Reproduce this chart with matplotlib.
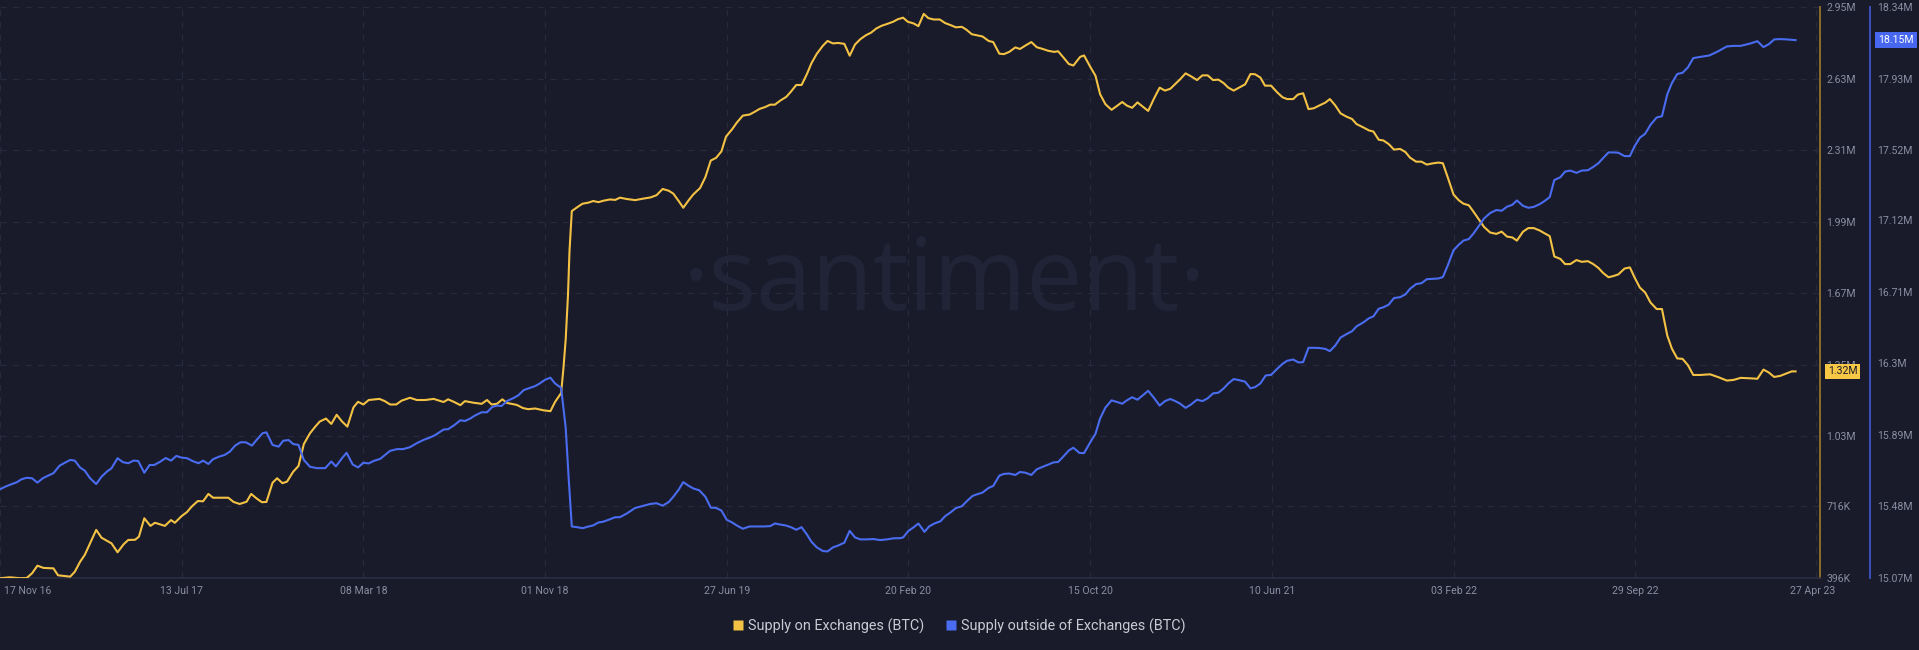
import matplotlib
matplotlib.use("Agg")
import matplotlib.pyplot as plt
import matplotlib.transforms as mtransforms
from matplotlib.lines import Line2D
import numpy as np
import pandas as pd

# ---------------- data (day offset from 17 Nov 2016, value in millions BTC) -------------
start_date = "2016-11-17"

supply_on_exchanges = [
    (0, 0.395), (13, 0.399), (26, 0.395), (35, 0.396), (42, 0.417), (49, 0.451), (57, 0.441),
    (70, 0.439), (76, 0.408), (92, 0.402), (98, 0.424), (105, 0.469), (111, 0.499), (118, 0.551),
    (126, 0.611), (133, 0.576), (146, 0.551), (154, 0.511), (162, 0.547), (168, 0.566), (177, 0.567),
    (182, 0.581), (189, 0.663), (197, 0.629), (203, 0.643), (216, 0.629), (224, 0.655), (229, 0.643),
    (238, 0.673), (245, 0.691), (251, 0.715), (259, 0.740), (266, 0.739), (273, 0.772), (279, 0.755),
    (299, 0.755), (306, 0.736), (314, 0.727), (323, 0.737), (329, 0.772), (336, 0.752), (343, 0.735),
    (349, 0.736), (357, 0.822), (363, 0.842), (370, 0.820), (376, 0.827), (384, 0.871), (391, 0.897),
    (398, 0.995), (406, 1.043), (413, 1.073), (419, 1.096), (427, 1.109), (434, 1.085), (441, 1.126),
    (448, 1.096), (455, 1.073), (463, 1.159), (469, 1.184), (476, 1.172), (483, 1.192), (497, 1.197),
    (504, 1.187), (511, 1.172), (519, 1.172), (526, 1.189), (537, 1.202), (546, 1.192), (557, 1.192),
    (568, 1.197), (581, 1.183), (587, 1.195), (595, 1.183), (603, 1.169), (609, 1.187), (620, 1.180),
    (631, 1.175), (638, 1.192), (644, 1.172), (651, 1.175), (658, 1.195), (664, 1.179), (677, 1.170),
    (685, 1.156), (692, 1.151), (701, 1.154), (712, 1.146), (721, 1.142), (727, 1.183), (735, 1.223),
    (738, 1.332), (741, 1.463), (744, 1.661), (746, 1.859), (749, 2.037), (756, 2.054), (763, 2.070),
    (771, 2.075), (777, 2.082), (784, 2.077), (790, 2.083), (799, 2.089), (806, 2.087), (812, 2.097),
    (821, 2.091), (832, 2.086), (843, 2.093), (852, 2.098), (860, 2.108), (868, 2.136), (876, 2.128),
    (882, 2.115), (889, 2.082), (895, 2.052), (902, 2.085), (908, 2.111), (917, 2.140), (924, 2.189),
    (931, 2.263), (938, 2.275), (945, 2.304), (951, 2.370), (959, 2.403), (965, 2.432), (973, 2.464),
    (982, 2.469), (988, 2.480), (995, 2.494), (1002, 2.502), (1009, 2.513), (1015, 2.513), (1022, 2.531),
    (1030, 2.548), (1036, 2.571), (1043, 2.601), (1050, 2.601), (1057, 2.650), (1063, 2.699), (1070, 2.741),
    (1078, 2.777), (1084, 2.798), (1091, 2.787), (1098, 2.789), (1106, 2.785), (1113, 2.732), (1120, 2.782),
    (1127, 2.806), (1134, 2.823), (1141, 2.835), (1148, 2.854), (1155, 2.866), (1162, 2.874), (1170, 2.884),
    (1176, 2.895), (1183, 2.902), (1189, 2.884), (1197, 2.876), (1203, 2.864), (1210, 2.919), (1216, 2.900),
    (1223, 2.894), (1231, 2.894), (1238, 2.878), (1245, 2.869), (1252, 2.859), (1260, 2.861), (1266, 2.848),
    (1273, 2.828), (1280, 2.823), (1287, 2.818), (1295, 2.798), (1301, 2.793), (1309, 2.741), (1315, 2.739),
    (1322, 2.749), (1330, 2.769), (1336, 2.762), (1343, 2.777), (1351, 2.793), (1358, 2.770), (1366, 2.762),
    (1373, 2.754), (1381, 2.749), (1386, 2.752), (1393, 2.724), (1400, 2.695), (1406, 2.688), (1415, 2.727),
    (1420, 2.733), (1428, 2.683), (1435, 2.642), (1441, 2.560), (1448, 2.515), (1456, 2.490), (1463, 2.507),
    (1470, 2.525), (1476, 2.509), (1483, 2.499), (1490, 2.523), (1497, 2.504), (1504, 2.485), (1512, 2.543),
    (1519, 2.589), (1526, 2.576), (1533, 2.584), (1539, 2.604), (1546, 2.627), (1553, 2.653), (1560, 2.640),
    (1568, 2.623), (1575, 2.644), (1582, 2.644), (1589, 2.623), (1596, 2.625), (1603, 2.609), (1609, 2.589),
    (1616, 2.576), (1623, 2.589), (1631, 2.604), (1638, 2.650), (1644, 2.649), (1651, 2.634), (1657, 2.598),
    (1665, 2.598), (1673, 2.568), (1680, 2.546), (1686, 2.538), (1694, 2.538), (1700, 2.558), (1707, 2.564),
    (1714, 2.493), (1721, 2.497), (1728, 2.509), (1736, 2.522), (1742, 2.538), (1749, 2.510), (1756, 2.474),
    (1764, 2.459), (1771, 2.449), (1777, 2.426), (1786, 2.411), (1793, 2.398), (1799, 2.393), (1806, 2.356),
    (1812, 2.353), (1819, 2.337), (1826, 2.312), (1834, 2.315), (1841, 2.301), (1847, 2.276), (1855, 2.258),
    (1862, 2.258), (1869, 2.245), (1876, 2.250), (1884, 2.254), (1890, 2.251), (1896, 2.192), (1904, 2.111),
    (1911, 2.085), (1917, 2.070), (1924, 2.063), (1930, 2.035), (1938, 1.996), (1944, 1.966), (1952, 1.941),
    (1960, 1.935), (1967, 1.945), (1974, 1.923), (1981, 1.919), (1987, 1.905), (1995, 1.945), (2002, 1.961),
    (2009, 1.961), (2017, 1.950), (2023, 1.938), (2030, 1.925), (2036, 1.834), (2044, 1.823), (2050, 1.800),
    (2057, 1.800), (2065, 1.818), (2072, 1.810), (2080, 1.813), (2087, 1.800), (2094, 1.782), (2100, 1.760),
    (2107, 1.741), (2114, 1.747), (2120, 1.754), (2128, 1.780), (2135, 1.785), (2141, 1.741), (2148, 1.695),
    (2155, 1.673), (2162, 1.628), (2170, 1.599), (2177, 1.599), (2184, 1.480), (2190, 1.422), (2197, 1.378),
    (2204, 1.376), (2211, 1.348), (2218, 1.304), (2227, 1.304), (2240, 1.307), (2251, 1.294), (2262, 1.279),
    (2271, 1.282), (2280, 1.291), (2293, 1.289), (2302, 1.287), (2310, 1.328), (2317, 1.315), (2324, 1.295),
    (2332, 1.300), (2341, 1.312), (2347, 1.320), (2352, 1.320),
]

supply_outside_exchanges = [
    (0, 15.578), (7, 15.593), (15, 15.607), (22, 15.618), (28, 15.635), (35, 15.644), (42, 15.641),
    (49, 15.616), (56, 15.641), (63, 15.656), (70, 15.670), (78, 15.713), (85, 15.730), (92, 15.746),
    (98, 15.742), (105, 15.702), (111, 15.685), (118, 15.641), (126, 15.608), (133, 15.650), (140, 15.679),
    (146, 15.698), (154, 15.756), (161, 15.733), (168, 15.727), (175, 15.742), (181, 15.740), (189, 15.673),
    (196, 15.717), (202, 15.717), (210, 15.736), (217, 15.757), (224, 15.742), (231, 15.769), (238, 15.759),
    (245, 15.756), (252, 15.740), (260, 15.727), (266, 15.742), (273, 15.723), (279, 15.750), (287, 15.765),
    (294, 15.774), (301, 15.793), (308, 15.828), (315, 15.847), (322, 15.847), (330, 15.828), (336, 15.860),
    (344, 15.899), (349, 15.904), (357, 15.832), (365, 15.822), (371, 15.856), (378, 15.860), (384, 15.837),
    (391, 15.832), (398, 15.746), (406, 15.707), (415, 15.699), (426, 15.699), (434, 15.737), (440, 15.709),
    (448, 15.756), (454, 15.787), (462, 15.720), (469, 15.703), (476, 15.730), (483, 15.726), (490, 15.741),
    (498, 15.752), (504, 15.773), (511, 15.798), (520, 15.808), (528, 15.808), (537, 15.819), (546, 15.842),
    (555, 15.861), (563, 15.874), (570, 15.888), (581, 15.920), (587, 15.922), (595, 15.945), (603, 15.973),
    (609, 15.969), (616, 15.983), (622, 16.000), (631, 16.019), (638, 16.019), (645, 16.050), (651, 16.057),
    (657, 16.055), (664, 16.083), (672, 16.099), (679, 16.116), (686, 16.146), (694, 16.158), (701, 16.169),
    (707, 16.184), (714, 16.205), (721, 16.217), (727, 16.184), (735, 16.159), (741, 15.931), (745, 15.635),
    (749, 15.365), (756, 15.361), (763, 15.355), (771, 15.365), (777, 15.371), (784, 15.388), (790, 15.392),
    (797, 15.403), (806, 15.418), (812, 15.418), (821, 15.439), (832, 15.471), (843, 15.484), (852, 15.494),
    (860, 15.498), (868, 15.484), (876, 15.505), (882, 15.535), (889, 15.576), (895, 15.619), (902, 15.598),
    (908, 15.583), (916, 15.572), (924, 15.535), (931, 15.473), (938, 15.471), (945, 15.456), (952, 15.403),
    (959, 15.388), (965, 15.371), (973, 15.352), (982, 15.365), (991, 15.365), (1000, 15.365), (1009, 15.367),
    (1015, 15.382), (1022, 15.376), (1029, 15.371), (1036, 15.361), (1043, 15.346), (1050, 15.361),
    (1057, 15.319), (1063, 15.277), (1070, 15.245), (1078, 15.224), (1084, 15.222), (1091, 15.245),
    (1098, 15.256), (1106, 15.272), (1113, 15.340), (1120, 15.302), (1127, 15.291), (1135, 15.291),
    (1144, 15.293), (1153, 15.287), (1162, 15.291), (1170, 15.297), (1179, 15.298), (1183, 15.302),
    (1190, 15.340), (1197, 15.361), (1203, 15.382), (1211, 15.334), (1217, 15.365), (1224, 15.382),
    (1232, 15.395), (1238, 15.424), (1245, 15.445), (1252, 15.470), (1260, 15.481), (1266, 15.508),
    (1274, 15.540), (1281, 15.551), (1287, 15.559), (1295, 15.586), (1301, 15.597), (1309, 15.656),
    (1315, 15.666), (1322, 15.668), (1330, 15.660), (1336, 15.677), (1343, 15.673), (1351, 15.660),
    (1358, 15.692), (1366, 15.707), (1373, 15.719), (1380, 15.732), (1386, 15.734), (1393, 15.766),
    (1400, 15.800), (1406, 15.816), (1414, 15.786), (1420, 15.785), (1428, 15.846), (1435, 15.896),
    (1441, 15.983), (1448, 16.046), (1456, 16.087), (1463, 16.078), (1470, 16.068), (1476, 16.087),
    (1483, 16.105), (1490, 16.091), (1497, 16.116), (1504, 16.142), (1512, 16.099), (1519, 16.057),
    (1526, 16.083), (1533, 16.095), (1539, 16.084), (1546, 16.068), (1553, 16.044), (1560, 16.063),
    (1568, 16.091), (1575, 16.083), (1582, 16.099), (1589, 16.127), (1596, 16.131), (1603, 16.156),
    (1609, 16.184), (1616, 16.209), (1623, 16.203), (1631, 16.194), (1638, 16.156), (1644, 16.163),
    (1651, 16.184), (1658, 16.230), (1665, 16.233), (1673, 16.268), (1680, 16.296), (1686, 16.314),
    (1694, 16.321), (1701, 16.304), (1707, 16.306), (1714, 16.388), (1721, 16.388), (1728, 16.387),
    (1736, 16.382), (1742, 16.369), (1749, 16.401), (1756, 16.447), (1764, 16.467), (1771, 16.483),
    (1777, 16.511), (1786, 16.534), (1793, 16.557), (1799, 16.568), (1806, 16.612), (1812, 16.620),
    (1819, 16.635), (1826, 16.673), (1834, 16.678), (1841, 16.694), (1847, 16.726), (1855, 16.753),
    (1862, 16.758), (1869, 16.781), (1876, 16.783), (1884, 16.785), (1890, 16.793), (1896, 16.855),
    (1904, 16.947), (1911, 16.979), (1917, 17.002), (1924, 17.011), (1930, 17.042), (1938, 17.091),
    (1944, 17.129), (1952, 17.160), (1960, 17.177), (1967, 17.173), (1974, 17.196), (1981, 17.207),
    (1987, 17.232), (1995, 17.201), (2002, 17.190), (2009, 17.195), (2017, 17.211), (2023, 17.228),
    (2030, 17.251), (2036, 17.349), (2044, 17.365), (2050, 17.397), (2057, 17.403), (2065, 17.390),
    (2072, 17.403), (2080, 17.405), (2087, 17.424), (2094, 17.446), (2100, 17.475), (2107, 17.507),
    (2114, 17.507), (2120, 17.505), (2128, 17.486), (2135, 17.486), (2141, 17.541), (2148, 17.591),
    (2155, 17.614), (2162, 17.665), (2170, 17.707), (2177, 17.714), (2184, 17.840), (2190, 17.904),
    (2197, 17.956), (2204, 17.963), (2211, 17.994), (2218, 18.047), (2227, 18.054), (2239, 18.062),
    (2251, 18.087), (2262, 18.114), (2271, 18.117), (2280, 18.117), (2293, 18.131), (2302, 18.144),
    (2310, 18.110), (2317, 18.127), (2324, 18.154), (2332, 18.156), (2341, 18.154), (2352, 18.150),
]

x_tick_labels = ["17 Nov 16", "13 Jul 17", "08 Mar 18", "01 Nov 18", "27 Jun 19", "20 Feb 20",
                 "15 Oct 20", "10 Jun 21", "03 Feb 22", "29 Sep 22", "27 Apr 23"]
x_tick_dates = ["2016-11-17", "2017-07-13", "2018-03-08", "2018-11-01", "2019-06-27", "2020-02-20",
                "2020-10-15", "2021-06-10", "2022-02-03", "2022-09-29", "2023-05-24"]
y1_ticks = [0.396, 0.716, 1.03, 1.35, 1.67, 1.99, 2.31, 2.63, 2.95]
y1_labels = ["396K", "716K", "1.03M", "1.35M", "1.67M", "1.99M", "2.31M", "2.63M", "2.95M"]
y2_ticks = [15.07, 15.48, 15.89, 16.30, 16.71, 17.12, 17.52, 17.93, 18.34]
y2_labels = ["15.07M", "15.48M", "15.89M", "16.3M", "16.71M", "17.12M", "17.52M", "17.93M", "18.34M"]
series_names = ["Supply on Exchanges (BTC)", "Supply outside of Exchanges (BTC)"]
last_labels = ["1.32M", "18.15M"]

# ---------------- style ----------------
BG = "#191b2a"
YEL = "#f3c244"
BLU = "#4a6cf0"
TICK_C = "#8a8ea2"
GRID_C = "#272a3d"
plt.rcParams["font.family"] = ["Roboto", "DejaVu Sans"]

t0 = pd.Timestamp(start_date)
yd = t0 + pd.to_timedelta([d for d, _ in supply_on_exchanges], unit="D")
yv = np.array([v for _, v in supply_on_exchanges])
bd = t0 + pd.to_timedelta([d for d, _ in supply_outside_exchanges], unit="D")
bv = np.array([v for _, v in supply_outside_exchanges])

fig = plt.figure(figsize=(19.19, 6.5), dpi=100, facecolor=BG)
ax = fig.add_axes([0.0, 0.1108, 0.9484, 0.8785])
ax.set_facecolor(BG)
ax2 = ax.twinx()
ax2.patch.set_visible(False)

ax.set_xlim(t0, t0 + pd.Timedelta(days=2384))
ax.set_ylim(0.396, 2.95)
ax2.set_ylim(15.07, 18.34)

# watermark
ax.text(0.519, 0.515, "·santiment·", transform=ax.transAxes, ha="center", va="center",
        fontsize=72, color="#212437", family=["Open Sans", "DejaVu Sans"], zorder=0)

ax.plot(yd, yv, color=YEL, lw=1.5, zorder=3, solid_joinstyle="round")
ax2.plot(bd, bv, color=BLU, lw=1.5, zorder=3, solid_joinstyle="round")

# ticks & grid
ax.set_yticks(y1_ticks)
ax.set_yticklabels(y1_labels)
ax2.set_yticks(y2_ticks)
ax2.set_yticklabels(y2_labels)
xt = pd.to_datetime(x_tick_dates)
ax.set_xticks(xt)
ax.set_xticklabels(x_tick_labels)
ax.grid(True, color=GRID_C, linestyle=(0, (5, 5)), lw=0.9, zorder=0)
ax.set_axisbelow(True)

# spines
for s in ["left", "top"]:
    ax.spines[s].set_visible(False)
    ax2.spines[s].set_visible(False)
ax2.spines["bottom"].set_visible(False)
ax.spines["bottom"].set_color("#2a2e44")
ax.spines["bottom"].set_linewidth(1.2)
ax.spines["right"].set_visible(True)
ax.spines["right"].set_color("#8c6d2c")
ax.spines["right"].set_linewidth(1.4)
ax2.spines["right"].set_visible(True)
ax2.spines["right"].set_position(("axes", 1870 / 1820))
ax2.spines["right"].set_color("#3a51b9")
ax2.spines["right"].set_linewidth(1.4)

ax.yaxis.tick_right()
ax.tick_params(axis="y", length=0, pad=4.5, labelsize=7.6, labelcolor=TICK_C)
ax2.tick_params(axis="y", length=0, pad=5, labelsize=7.6, labelcolor=TICK_C)
ax.tick_params(axis="x", length=0, pad=6, labelsize=7.6, labelcolor=TICK_C)
xl = ax.get_xticklabels()
xl[0].set_ha("left")
offs = mtransforms.ScaledTranslation(4 / 100, 0, fig.dpi_scale_trans)
xl[0].set_transform(xl[0].get_transform() + offs)
offs2 = mtransforms.ScaledTranslation(-4 / 100, 0, fig.dpi_scale_trans)
xl[-1].set_transform(xl[-1].get_transform() + offs2)

# last value badges
tr1 = mtransforms.blended_transform_factory(ax.transAxes, ax.transData)
ax.text(1.0043, yv[-1], last_labels[0], transform=tr1, ha="left", va="center", fontsize=7.6,
        color="#1a1b2a", zorder=10, clip_on=False,
        bbox=dict(boxstyle="square,pad=0.25", fc="#f7c846", ec="none"))
tr2 = mtransforms.blended_transform_factory(ax2.transAxes, ax2.transData)
ax2.text(1.0318, bv[-1], last_labels[1], transform=tr2, ha="left", va="center", fontsize=7.6,
         color="white", zorder=10, clip_on=False,
         bbox=dict(boxstyle="square,pad=0.3", fc="#4767ef", ec="none"))

# legend
handles = [Line2D([0], [0], marker="s", color="none", markerfacecolor=YEL, markeredgecolor="none",
                  markersize=7.5),
           Line2D([0], [0], marker="s", color="none", markerfacecolor=BLU, markeredgecolor="none",
                  markersize=7.5)]
fig.legend(handles, series_names, loc="center", bbox_to_anchor=(0.5, 0.037), ncol=2, frameon=False,
           handlelength=0.7, handletextpad=0.35, columnspacing=1.5, fontsize=10.4,
           labelcolor="#c9cbd4")

fig.savefig("out.png", dpi=100, facecolor=BG)
